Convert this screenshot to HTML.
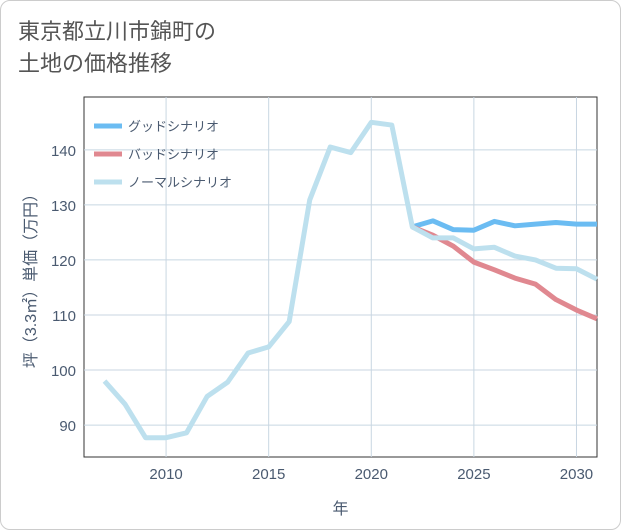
<!DOCTYPE html>
<html><head><meta charset="utf-8"><style>
body{margin:0;background:#fff;}
#wrap{position:relative;width:621px;height:530px;background:#fff;font-family:"Liberation Sans","Noto Sans CJK JP",sans-serif;}
.frame{position:absolute;left:0;top:0;width:619px;height:528px;border:1px solid #ccc;border-radius:10px;}
.title{position:absolute;left:18px;top:16px;font-size:22px;line-height:32px;color:#555;}
</style></head><body>
<div id="wrap">
<div class="frame"></div>
<div class="title">東京都立川市錦町の<br>土地の価格推移</div>
<svg id="chart" width="621" height="530" style="position:absolute;left:0;top:0"></svg>
</div>
<script>
const years=[2007,2008,2009,2010,2011,2012,2013,2014,2015,2016,2017,2018,2019,2020,2021,2022,2023,2024,2025,2026,2027,2028,2029,2030,2031];
const normalValues=[98,93.8,87.7,87.7,88.6,95.2,97.8,103.1,104.2,108.8,130.9,140.5,139.5,145,144.5,126,124,124,122,122.3,120.7,120,118.5,118.4,116.5];
const goodYears=[2022,2023,2024,2025,2026,2027,2028,2029,2030,2031];
const goodValues=[126,127.1,125.5,125.4,127,126.2,126.5,126.8,126.5,126.5];
const badValues=[126,124.5,122.5,119.6,118.2,116.7,115.6,112.8,110.9,109.3];
const xTicks=[2010,2015,2020,2025,2030];
const yTicks=[90,100,110,120,130,140];
const L=84,R=597,T=97,B=457,X0=2006,X1=2031,Y0=84.2,Y1=149.6;
const sx=v=>L+(v-X0)/(X1-X0)*(R-L);
const sy=v=>B-(v-Y0)/(Y1-Y0)*(B-T);
const svg=document.getElementById('chart');const NS='http://www.w3.org/2000/svg';
function mk(t,a,p){const e=document.createElementNS(NS,t);for(const k in a)e.setAttribute(k,a[k]);(p||svg).appendChild(e);return e;}
let e=mk('rect',{x:L,y:T,width:R-L,height:B-T,fill:'none',stroke:'#333','stroke-width':1});


xTicks.forEach(t=>{const g=mk('line',{x1:sx(t),x2:sx(t),y1:T,y2:B,stroke:'#c8d6e2'});


const tx=mk('text',{x:sx(t),y:B+22,'text-anchor':'middle','font-size':15,fill:'#4a5a70'});tx.textContent=t;

});
yTicks.forEach(t=>{const g=mk('line',{x1:L,x2:R,y1:sy(t),y2:sy(t),stroke:'#c8d6e2'});


const tx=mk('text',{x:L-8,y:sy(t)+6,'text-anchor':'end','font-size':15,fill:'#4a5a70'});tx.textContent=t;

});
function line(xs,vs,c,name){const p=mk('polyline',{points:xs.map((x,i)=>sx(x)+','+sy(vs[i])).join(' '),fill:'none',stroke:c,'stroke-width':5,'stroke-linejoin':'round'});

}
line(goodYears,goodValues,'#6bbcf2','good-scenario-line');
line(goodYears,badValues,'#e08890','bad-scenario-line');
line(years,normalValues,'#bde0ee','normal-scenario-line');
const leg=[['グッドシナリオ','#6bbcf2'],['バッドシナリオ','#e08890'],['ノーマルシナリオ','#bde0ee']];
leg.forEach((l,i)=>{const y=126+i*28;const ln=mk('line',{x1:94,x2:122,y1:y,y2:y,stroke:l[1],'stroke-width':5});


const tx=mk('text',{x:128,y:y+5,'font-size':13,fill:'#4a5a70'});tx.textContent=l[0];

});
const xt=mk('text',{x:(L+R)/2,y:514,'text-anchor':'middle','font-size':16,fill:'#4a5a70'});xt.textContent='年';


const yt=mk('text',{x:0,y:0,'text-anchor':'middle','font-size':16,fill:'#4a5a70',transform:'translate(36,'+((T+B)/2)+') rotate(-90)'});yt.textContent='坪（3.3㎡）単価（万円）';


</script>
</body></html>
